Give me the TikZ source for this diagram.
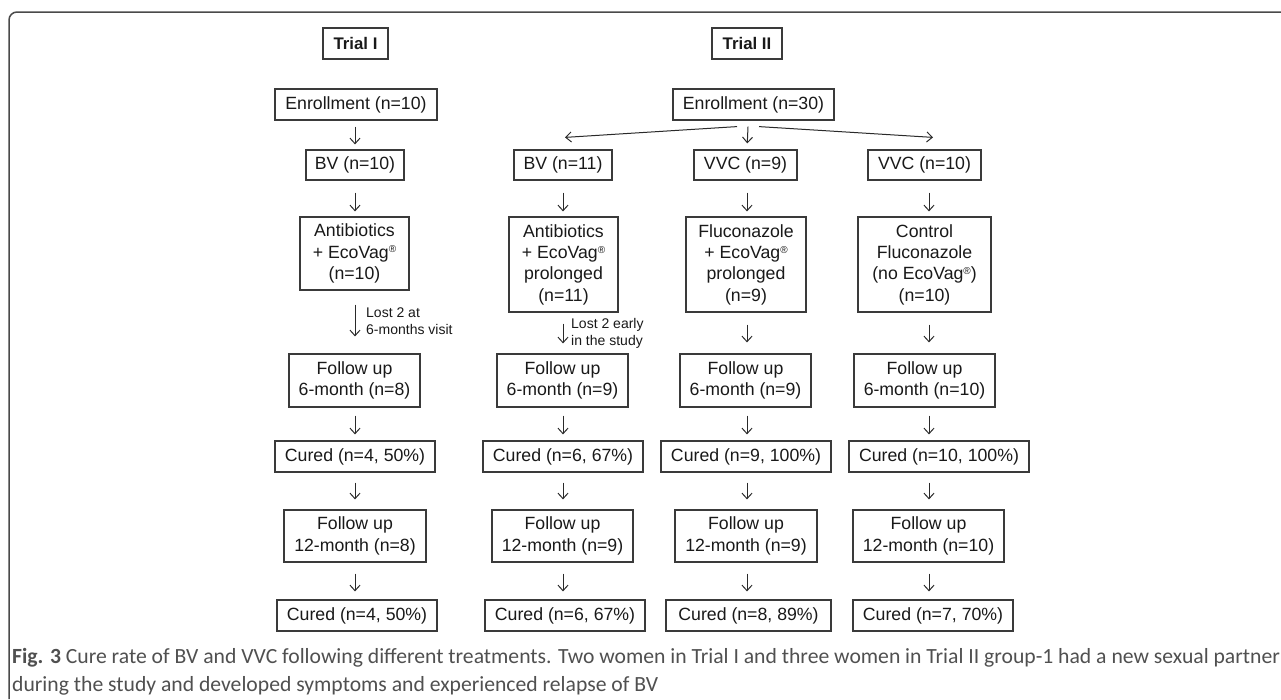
\documentclass[tikz,border=0pt]{standalone}
\usepackage{fontspec}
\setmainfont{Liberation Sans}
\newfontfamily\capfont{Carlito}
\usetikzlibrary{arrows.meta,calc}
\definecolor{boxc}{HTML}{3A3A3A}
\definecolor{arrc}{HTML}{2A2A2A}
\definecolor{capc}{HTML}{505050}
\definecolor{framec}{HTML}{4A4A4A}
\newcommand{\reg}{\raisebox{0.55ex}{\fontsize{10}{10}\selectfont ®}}
\tikzset{
  box/.style={draw=boxc, line width=1.2pt, inner sep=0pt, align=center,
    font=\fontsize{17.7}{21.3}\selectfont, text=black!90},
  trialbox/.style={box, font=\fontsize{16.8}{20}\selectfont\bfseries},
  arr/.style={draw=arrc, line width=1pt, -{Straight Barb[length=5.5pt,width=10pt]}},
  lostlbl/.style={inner sep=0pt, align=left, anchor=west, font=\fontsize{14}{16.8}\selectfont, text=black!90},
  caption/.style={inner sep=0pt, anchor=base west, text=capc, font=\capfont\fontsize{21.65}{25}\selectfont}
}
\begin{document}
\begin{tikzpicture}[x=1pt,y=-1pt]
\useasboundingbox (0,0) rectangle (1281,699);
\fill[white] (0,0) rectangle (1281,699);
% frame
\draw[framec, line width=1.5pt, rounded corners=8pt] (9,699) -- (9,12) -- (1281,12);

% column coordinates
\coordinate (cA) at (355,0);
\coordinate (cB) at (563,0);
\coordinate (cC) at (747,0);
\coordinate (cD) at (929,0);

% headers
\node[trialbox, minimum width=65pt, minimum height=31pt] (t1) at (355.5,43.5) {Trial I};
\node[trialbox, minimum width=70pt, minimum height=31pt] (t2) at (747,43.5) {Trial II};

% enrollment
\node[box, minimum width=162pt, minimum height=31pt] (e1) at (356,104.5) {Enrollment (n=10)};
\node[box, minimum width=161pt, minimum height=31pt] (e2) at (753.5,104.5) {Enrollment (n=30)};

% diagnosis
\node[box, minimum width=98pt, minimum height=30pt] (d1) at (355,165) {BV (n=10)};
\node[box, minimum width=98pt, minimum height=30pt] (d2) at (563,165) {BV (n=11)};
\node[box, minimum width=103pt, minimum height=30pt] (d3) at (745.5,165) {VVC (n=9)};
\node[box, minimum width=113pt, minimum height=30pt] (d4) at (924.5,165) {VVC (n=10)};

% treatment
\node[box, minimum width=109pt, minimum height=73pt] (r1) at (354.5,253.5) {Antibiotics\\+ EcoVag\reg\\(n=10)};
\node[box, minimum width=109pt, minimum height=95pt] (r2) at (563.5,264.5) {Antibiotics\\+ EcoVag\reg\\prolonged\\(n=11)};
\node[box, minimum width=120pt, minimum height=95pt] (r3) at (746,264.5) {Fluconazole\\+ EcoVag\reg\\prolonged\\(n=9)};
\node[box, minimum width=133pt, minimum height=95pt] (r4) at (924.5,264.5) {Control\\Fluconazole\\(no EcoVag\reg)\\(n=10)};

% follow up 6-month
\node[box, minimum width=131pt, minimum height=53pt] (f1) at (354.5,380.5) {Follow up\\6-month (n=8)};
\node[box, minimum width=131pt, minimum height=53pt] (f2) at (562.5,380.5) {Follow up\\6-month (n=9)};
\node[box, minimum width=131pt, minimum height=53pt] (f3) at (745.5,380.5) {Follow up\\6-month (n=9)};
\node[box, minimum width=141pt, minimum height=53pt] (f4) at (924.5,380.5) {Follow up\\6-month (n=10)};

% cured 1
\node[box, minimum width=160pt, minimum height=31pt] (c1) at (355,456.5) {Cured (n=4, 50\%)};
\node[box, minimum width=160pt, minimum height=31pt] (c2) at (563,456.5) {Cured (n=6, 67\%)};
\node[box, minimum width=170pt, minimum height=31pt] (c3) at (746,456.5) {Cured (n=9, 100\%)};
\node[box, minimum width=180pt, minimum height=31pt] (c4) at (939,456.5) {Cured (n=10, 100\%)};

% follow up 12-month
\node[box, minimum width=142pt, minimum height=52pt] (g1) at (355,536) {Follow up\\12-month (n=8)};
\node[box, minimum width=141pt, minimum height=52pt] (g2) at (562.5,536) {Follow up\\12-month (n=9)};
\node[box, minimum width=142pt, minimum height=52pt] (g3) at (746,536) {Follow up\\12-month (n=9)};
\node[box, minimum width=151pt, minimum height=52pt] (g4) at (928.5,536) {Follow up\\12-month (n=10)};

% cured 2
\node[box, minimum width=160pt, minimum height=31pt] (k1) at (357,615.5) {Cured (n=4, 50\%)};
\node[box, minimum width=160pt, minimum height=31pt] (k2) at (565,615.5) {Cured (n=6, 67\%)};
\node[box, minimum width=165pt, minimum height=31pt] (k3) at (748.5,615.5) {Cured (n=8, 89\%)};
\node[box, minimum width=160pt, minimum height=31pt] (k4) at (933,615.5) {Cured (n=7, 70\%)};

% arrows: enrollment
\draw[arr, shorten <=6pt, shorten >=5pt] (e1.south -| cA) -- (d1.north -| cA);
\coordinate (es) at ($(e2.south)+(0,6)$);
\draw[arr] ($(es)+(-16.5,0)$) -- ($(d2.north)+(2,-12)$);
\draw[arr, shorten >=6pt] ($(es)+(-5.5,0)$) -- (d3.north -| cC);
\draw[arr] ($(es)+(5.5,0)$) -- ($(d4.north)+(8.5,-12)$);

% diagnosis -> treatment
\draw[arr, shorten <=12pt, shorten >=5pt] (d1.south -| cA) -- (r1.north -| cA);
\draw[arr, shorten <=12pt, shorten >=5pt] (d2.south -| cB) -- (r2.north -| cB);
\draw[arr, shorten <=12pt, shorten >=5pt] (d3.south -| cC) -- (r3.north -| cC);
\draw[arr, shorten <=12pt, shorten >=5pt] (d4.south -| cD) -- (r4.north -| cD);

% treatment -> follow up 6
\draw[arr, shorten <=14pt, shorten >=17pt] (r1.south -| cA) -- (f1.north -| cA);
\draw[arr, shorten <=11pt, shorten >=10pt] (r2.south -| cB) -- (f2.north -| cB);
\draw[arr, shorten <=12pt, shorten >=11pt] (r3.south -| cC) -- (f3.north -| cC);
\draw[arr, shorten <=12pt, shorten >=11pt] (r4.south -| cD) -- (f4.north -| cD);

\node[lostlbl] (l1) at (366,321.5) {Lost 2 at\\6-months visit};
\node[lostlbl] (l2) at (571,333.5) {Lost 2 early\\in the study};

% follow up 6 -> cured
\draw[arr, shorten <=8pt, shorten >=6pt] (f1.south -| cA) -- (c1.north -| cA);
\draw[arr, shorten <=8pt, shorten >=6pt] (f2.south -| cB) -- (c2.north -| cB);
\draw[arr, shorten <=8pt, shorten >=6pt] (f3.south -| cC) -- (c3.north -| cC);
\draw[arr, shorten <=8pt, shorten >=6pt] (f4.south -| cD) -- (c4.north -| cD);

% cured -> follow up 12
\draw[arr, shorten <=10pt, shorten >=10pt] (c1.south -| cA) -- (g1.north -| cA);
\draw[arr, shorten <=10pt, shorten >=10pt] (c2.south -| cB) -- (g2.north -| cB);
\draw[arr, shorten <=10pt, shorten >=10pt] (c3.south -| cC) -- (g3.north -| cC);
\draw[arr, shorten <=10pt, shorten >=10pt] (c4.south -| cD) -- (g4.north -| cD);

% follow up 12 -> cured
\draw[arr, shorten <=11pt, shorten >=8pt] (g1.south -| cA) -- (k1.north -| cA);
\draw[arr, shorten <=11pt, shorten >=8pt] (g2.south -| cB) -- (k2.north -| cB);
\draw[arr, shorten <=11pt, shorten >=8pt] (g3.south -| cC) -- (k3.north -| cC);
\draw[arr, shorten <=11pt, shorten >=8pt] (g4.south -| cD) -- (k4.north -| cD);

% caption
\node[caption] (cap1) at (12,663) {\textbf{Fig. 3} Cure rate of BV and VVC following different treatments. Two women in Trial I and three women in Trial II group-1 had a new sexual partner};
\node[caption] (cap2) at (12,691) {during the study and developed symptoms and experienced relapse of BV};
\end{tikzpicture}
\end{document}
